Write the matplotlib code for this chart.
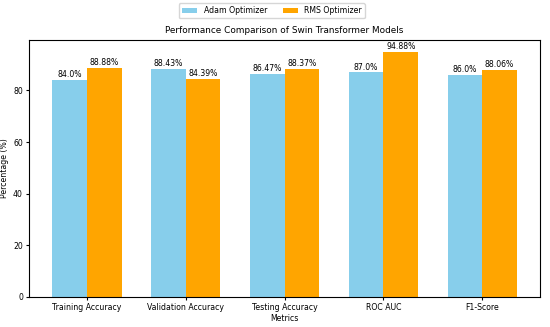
import matplotlib
matplotlib.use("Agg")
import matplotlib.pyplot as plt
import numpy as np

metrics = ["Training Accuracy", "Validation Accuracy", "Testing Accuracy", "ROC AUC", "F1-Score"]
adam = [84.0, 88.43, 86.47, 87.0, 86.0]
rms = [88.88, 84.39, 88.37, 94.88, 88.06]
adam_labels = ["84.0%", "88.43%", "86.47%", "87.0%", "86.0%"]
rms_labels = ["88.88%", "84.39%", "88.37%", "94.88%", "88.06%"]

fs = 5.6
plt.rcParams['font.size'] = fs
fig, ax = plt.subplots(figsize=(5.5, 3.27), dpi=100)
x = np.arange(len(metrics))
w = 0.35
b1 = ax.bar(x - w/2, adam, w, color='skyblue', label='Adam Optimizer')
b2 = ax.bar(x + w/2, rms, w, color='orange', label='RMS Optimizer')
ax.bar_label(b1, labels=adam_labels, padding=0.5, fontsize=fs)
ax.bar_label(b2, labels=rms_labels, padding=0.5, fontsize=fs)
ax.set_xticks(x)
ax.set_xticklabels(metrics, fontsize=fs)
ax.tick_params(axis='both', labelsize=fs, length=2.5, pad=2)
ax.set_xlabel("Metrics", fontsize=fs, labelpad=1)
ax.set_ylabel("Percentage (%)", fontsize=fs, labelpad=3)
ax.set_ylim(0, 99.6)
ax.set_title("Performance Comparison of Swin Transformer Models", fontsize=6.4, pad=5)
ax.legend(loc='upper center', bbox_to_anchor=(0.475, 1.158), ncol=2, fontsize=fs, frameon=True)
fig.subplots_adjust(left=0.053, right=0.982, top=0.878, bottom=0.092)
fig.savefig("out.png", dpi=100)
